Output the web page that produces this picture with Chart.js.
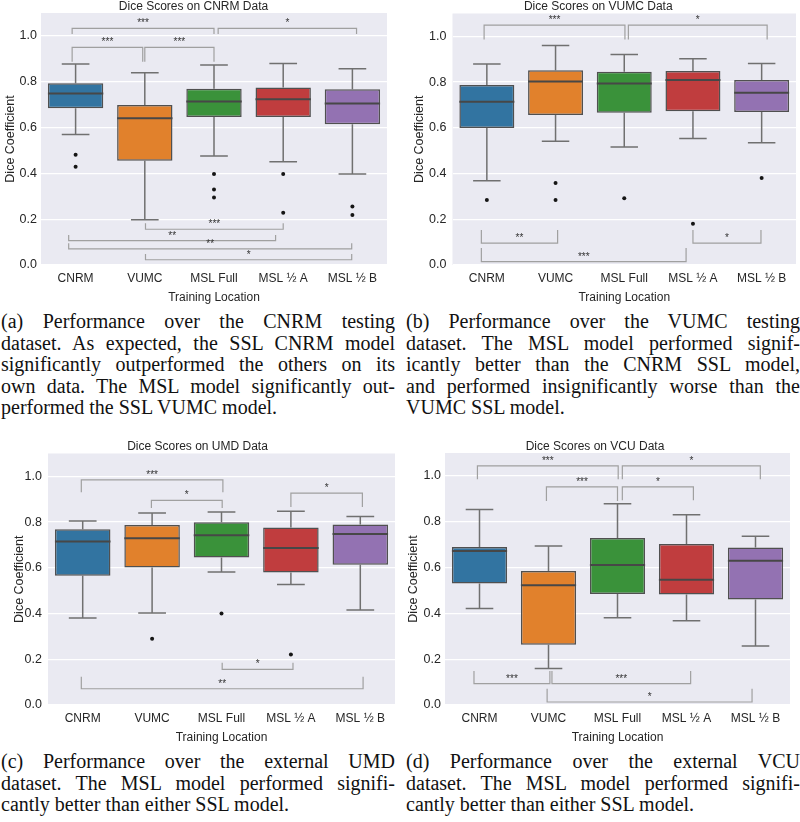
<!DOCTYPE html>
<html>
<head>
<meta charset="utf-8">
<script src="https://cdn.jsdelivr.net/npm/chart.js@4.4.1/dist/chart.umd.min.js"></script>
<style>
  body { margin: 0; background: #fff; width: 800px; height: 822px; position: relative; overflow: hidden; }
  canvas { position: absolute; }
  .cap { position: absolute; width: 394px; font-family: "Liberation Serif", serif; font-size: 20px; line-height: 21.5px; color: #111; }
  .cap div { text-align: justify; text-align-last: justify; }
  .cap div.end { text-align-last: left; }
</style>
</head>
<body>
<canvas id="a" width="400" height="305" style="left:0;top:0"></canvas>
<canvas id="b" width="400" height="305" style="left:400px;top:0"></canvas>
<canvas id="c" width="400" height="305" style="left:0;top:440px"></canvas>
<canvas id="d" width="400" height="305" style="left:400px;top:440px"></canvas>

<div class="cap" style="left:1px;top:311px">
  <div>(a) Performance over the CNRM testing</div>
  <div>dataset. As expected, the SSL CNRM model</div>
  <div>significantly outperformed the others on its</div>
  <div>own data. The MSL model significantly out-</div>
  <div class="end">performed the SSL VUMC model.</div>
</div>
<div class="cap" style="left:406px;top:311px">
  <div>(b) Performance over the VUMC testing</div>
  <div>dataset. The MSL model performed signif-</div>
  <div>icantly better than the CNRM SSL model,</div>
  <div>and performed insignificantly worse than the</div>
  <div class="end">VUMC SSL model.</div>
</div>
<div class="cap" style="left:1px;top:751px">
  <div>(c) Performance over the external UMD</div>
  <div>dataset. The MSL model performed signifi-</div>
  <div class="end">cantly better than either SSL model.</div>
</div>
<div class="cap" style="left:406px;top:751px">
  <div>(d) Performance over the external VCU</div>
  <div>dataset. The MSL model performed signifi-</div>
  <div class="end">cantly better than either SSL model.</div>
</div>

<script>
const categories = ['CNRM', 'VUMC', 'MSL Full', 'MSL ½ A', 'MSL ½ B'];
const colors = ['#3274a1', '#e1812c', '#3a923a', '#c03d3e', '#9372b2'];

// each box: [whisker low, q1, median, q3, whisker high]
const cnrmBoxes = [
  [0.570, 0.684, 0.749, 0.793, 0.877],
  [0.198, 0.455, 0.641, 0.698, 0.839],
  [0.476, 0.646, 0.714, 0.769, 0.873],
  [0.451, 0.646, 0.724, 0.775, 0.880],
  [0.397, 0.614, 0.705, 0.767, 0.857]
];
const cnrmOutliers = [[0.481, 0.429], [], [0.397, 0.330, 0.295], [0.397, 0.228], [0.255, 0.218]];
// bracket: [from category, to category, line value, leg end value, label]
const cnrmBrackets = [
  [-0.05, 2.0, 1.033, 1.008, '***'],
  [2.06, 4.06, 1.033, 1.008, '*'],
  [-0.05, 0.97, 0.950, 0.887, '***'],
  [1.0, 2.0, 0.950, 0.887, '***'],
  [1.01, 3.0, 0.156, 0.182, '***'],
  [-0.1, 2.89, 0.106, 0.131, '**'],
  [-0.1, 3.99, 0.070, 0.095, '**'],
  [1.01, 3.99, 0.023, 0.048, '*']
];

const vumcBoxes = [
  [0.368, 0.599, 0.714, 0.787, 0.879],
  [0.541, 0.656, 0.803, 0.852, 0.960],
  [0.516, 0.666, 0.794, 0.845, 0.921],
  [0.553, 0.673, 0.809, 0.849, 0.902],
  [0.535, 0.669, 0.753, 0.809, 0.881]
];
const vumcOutliers = [[0.284], [0.359, 0.284], [0.292], [0.180], [0.381]];
const vumcBrackets = [
  [-0.04, 2.01, 1.049, 0.986, '***'],
  [2.06, 4.08, 1.049, 0.986, '*'],
  [-0.08, 1.03, 0.096, 0.153, '**'],
  [3.0, 3.99, 0.096, 0.153, '*'],
  [-0.08, 2.9, 0.0145, 0.074, '***']
];

const umdBoxes = [
  [0.380, 0.565, 0.715, 0.769, 0.805],
  [0.402, 0.601, 0.729, 0.787, 0.840],
  [0.582, 0.645, 0.742, 0.799, 0.844],
  [0.527, 0.579, 0.687, 0.776, 0.847],
  [0.415, 0.613, 0.748, 0.789, 0.824]
];
const umdOutliers = [[], [0.290], [0.400], [0.221], []];
const umdBrackets = [
  [-0.02, 2.02, 0.985, 0.930, '***'],
  [0.99, 2.01, 0.895, 0.862, '*'],
  [3.0, 4.03, 0.927, 0.866, '*'],
  [2.01, 3.03, 0.156, 0.185, '*'],
  [-0.02, 4.04, 0.071, 0.124, '**']
];

const vcuBoxes = [
  [0.421, 0.530, 0.672, 0.690, 0.853],
  [0.159, 0.263, 0.523, 0.585, 0.694],
  [0.381, 0.485, 0.611, 0.729, 0.878],
  [0.368, 0.482, 0.547, 0.703, 0.830],
  [0.258, 0.460, 0.630, 0.687, 0.737]
];
const vcuOutliers = [[], [], [], [], []];
const vcuBrackets = [
  [-0.03, 2.01, 1.044, 0.985, '***'],
  [2.07, 4.07, 1.044, 0.985, '*'],
  [0.97, 2.0, 0.952, 0.891, '***'],
  [2.07, 3.1, 0.952, 0.894, '*'],
  [-0.08, 1.02, 0.093, 0.148, '***'],
  [1.05, 3.06, 0.093, 0.148, '***'],
  [0.98, 3.95, 0.013, 0.071, '*']
];

const yTicks = [0, 0.2, 0.4, 0.6, 0.8, 1.0];

const FONT = '"Liberation Sans", Arial, sans-serif';
const TEXT = '#262626';

// draws background, whiskers, medians and the significance brackets
function boxPlugin(boxes, brackets) {
  return {
    id: 'boxes',
    beforeDraw(chart) {
      const a = chart.chartArea, ctx = chart.ctx;
      ctx.save();
      ctx.fillStyle = '#eaeaf2';
      ctx.fillRect(a.left, a.top, a.right - a.left, a.bottom - a.top);
      ctx.restore();
    },
    beforeDatasetsDraw(chart) {
      const ctx = chart.ctx, y = chart.scales.y;
      const bars = chart.getDatasetMeta(0).data;
      ctx.save();
      ctx.strokeStyle = '#707070';
      ctx.lineWidth = 1.5;
      boxes.forEach((b, i) => {
        const x = bars[i].x, c = bars[i].width / 4;
        ctx.beginPath();
        ctx.moveTo(x, y.getPixelForValue(b[3]));
        ctx.lineTo(x, y.getPixelForValue(b[4]));
        ctx.moveTo(x - c, y.getPixelForValue(b[4]));
        ctx.lineTo(x + c, y.getPixelForValue(b[4]));
        ctx.moveTo(x, y.getPixelForValue(b[1]));
        ctx.lineTo(x, y.getPixelForValue(b[0]));
        ctx.moveTo(x - c, y.getPixelForValue(b[0]));
        ctx.lineTo(x + c, y.getPixelForValue(b[0]));
        ctx.stroke();
      });
      ctx.restore();
    },
    afterDatasetsDraw(chart) {
      const ctx = chart.ctx, y = chart.scales.y, xs = chart.scales.x;
      const bars = chart.getDatasetMeta(0).data;
      ctx.save();
      ctx.strokeStyle = '#474747';
      ctx.lineWidth = 2;
      boxes.forEach((b, i) => {
        const x = bars[i].x, h = bars[i].width / 2;
        const py = y.getPixelForValue(b[2]);
        ctx.beginPath();
        ctx.moveTo(x - h, py);
        ctx.lineTo(x + h, py);
        ctx.stroke();
      });
      ctx.strokeStyle = '#a0a0a0';
      ctx.lineWidth = 1.2;
      ctx.fillStyle = '#333';
      ctx.font = '10px ' + FONT;
      ctx.textAlign = 'center';
      ctx.textBaseline = 'alphabetic';
      brackets.forEach(([i, j, v, leg, label]) => {
        const x1 = xs.getPixelForValue(i), x2 = xs.getPixelForValue(j);
        const py = y.getPixelForValue(v), pl = y.getPixelForValue(leg);
        ctx.beginPath();
        ctx.moveTo(x1, pl);
        ctx.lineTo(x1, py);
        ctx.lineTo(x2, py);
        ctx.lineTo(x2, pl);
        ctx.stroke();
        ctx.fillText(label, (x1 + x2) / 2, py - 2);
      });
      ctx.restore();
    }
  };
}

const panels = [
  { id: 'a', title: 'Dice Scores on CNRM Data', boxes: cnrmBoxes, outliers: cnrmOutliers, brackets: cnrmBrackets,
    yWidth: 41, padRight: 13, yTitlePad: 3, yTickPad: 4 },
  { id: 'b', title: 'Dice Scores on VUMC Data', boxes: vumcBoxes, outliers: vumcOutliers, brackets: vumcBrackets,
    yWidth: 52.5, padRight: 3.5, yTitlePad: 12, yTickPad: 6 },
  { id: 'c', title: 'Dice Scores on UMD Data', boxes: umdBoxes, outliers: umdOutliers, brackets: umdBrackets,
    yWidth: 48, padRight: 5, yTitlePad: 12, yTickPad: 6 },
  { id: 'd', title: 'Dice Scores on VCU Data', boxes: vcuBoxes, outliers: vcuOutliers, brackets: vcuBrackets,
    yWidth: 45, padRight: 10, yTitlePad: 6, yTickPad: 4 }
];

panels.forEach(p => {
  const points = p.outliers.flatMap((vals, i) => vals.map(v => ({ x: categories[i], y: v })));
  new Chart(document.getElementById(p.id), {
    type: 'bar',
    data: {
      labels: categories,
      datasets: [{
        type: 'bar',
        data: p.boxes.map(b => [b[1], b[3]]),
        backgroundColor: colors,
        borderColor: '#505050',
        borderWidth: 1.5,
        borderSkipped: false,
        barPercentage: 0.8,
        categoryPercentage: 1.0
      }, {
        type: 'line',
        data: points,
        showLine: false,
        pointRadius: 2,
        pointBackgroundColor: '#151515',
        pointBorderWidth: 0
      }]
    },
    options: {
      responsive: false,
      animation: false,
      layout: { padding: { left: 0, right: p.padRight, top: 0, bottom: 0 } },
      plugins: {
        legend: { display: false },
        tooltip: { enabled: false },
        title: {
          display: true, text: p.title, color: TEXT,
          font: { family: FONT, size: 12, weight: 'normal', lineHeight: 13 / 12 },
          padding: { top: 0, bottom: 0 }
        }
      },
      scales: {
        x: {
          grid: { display: false, drawTicks: false },
          border: { display: false },
          ticks: { color: TEXT, font: { family: FONT, size: 12 }, padding: 6, maxRotation: 0, autoSkip: false },
          title: { display: true, text: 'Training Location', color: TEXT, font: { family: FONT, size: 12 }, padding: { top: 0, bottom: 0 } },
          afterFit: s => { s.height = 40; }
        },
        y: {
          min: 0, max: 1.1,
          grid: { color: '#ffffff', lineWidth: 1.3, drawTicks: false },
          border: { display: false },
          afterBuildTicks: s => { s.ticks = yTicks.map(v => ({ value: v })); },
          ticks: { color: TEXT, font: { family: FONT, size: 12.5 }, padding: p.yTickPad, callback: v => v.toFixed(1) },
          title: { display: true, text: 'Dice Coefficient', color: TEXT, font: { family: FONT, size: 12.5 }, padding: { top: p.yTitlePad, bottom: 0 } },
          afterFit: s => { s.width = p.yWidth; }
        }
      }
    },
    plugins: [boxPlugin(p.boxes, p.brackets)]
  });
});
</script>
</body>
</html>
